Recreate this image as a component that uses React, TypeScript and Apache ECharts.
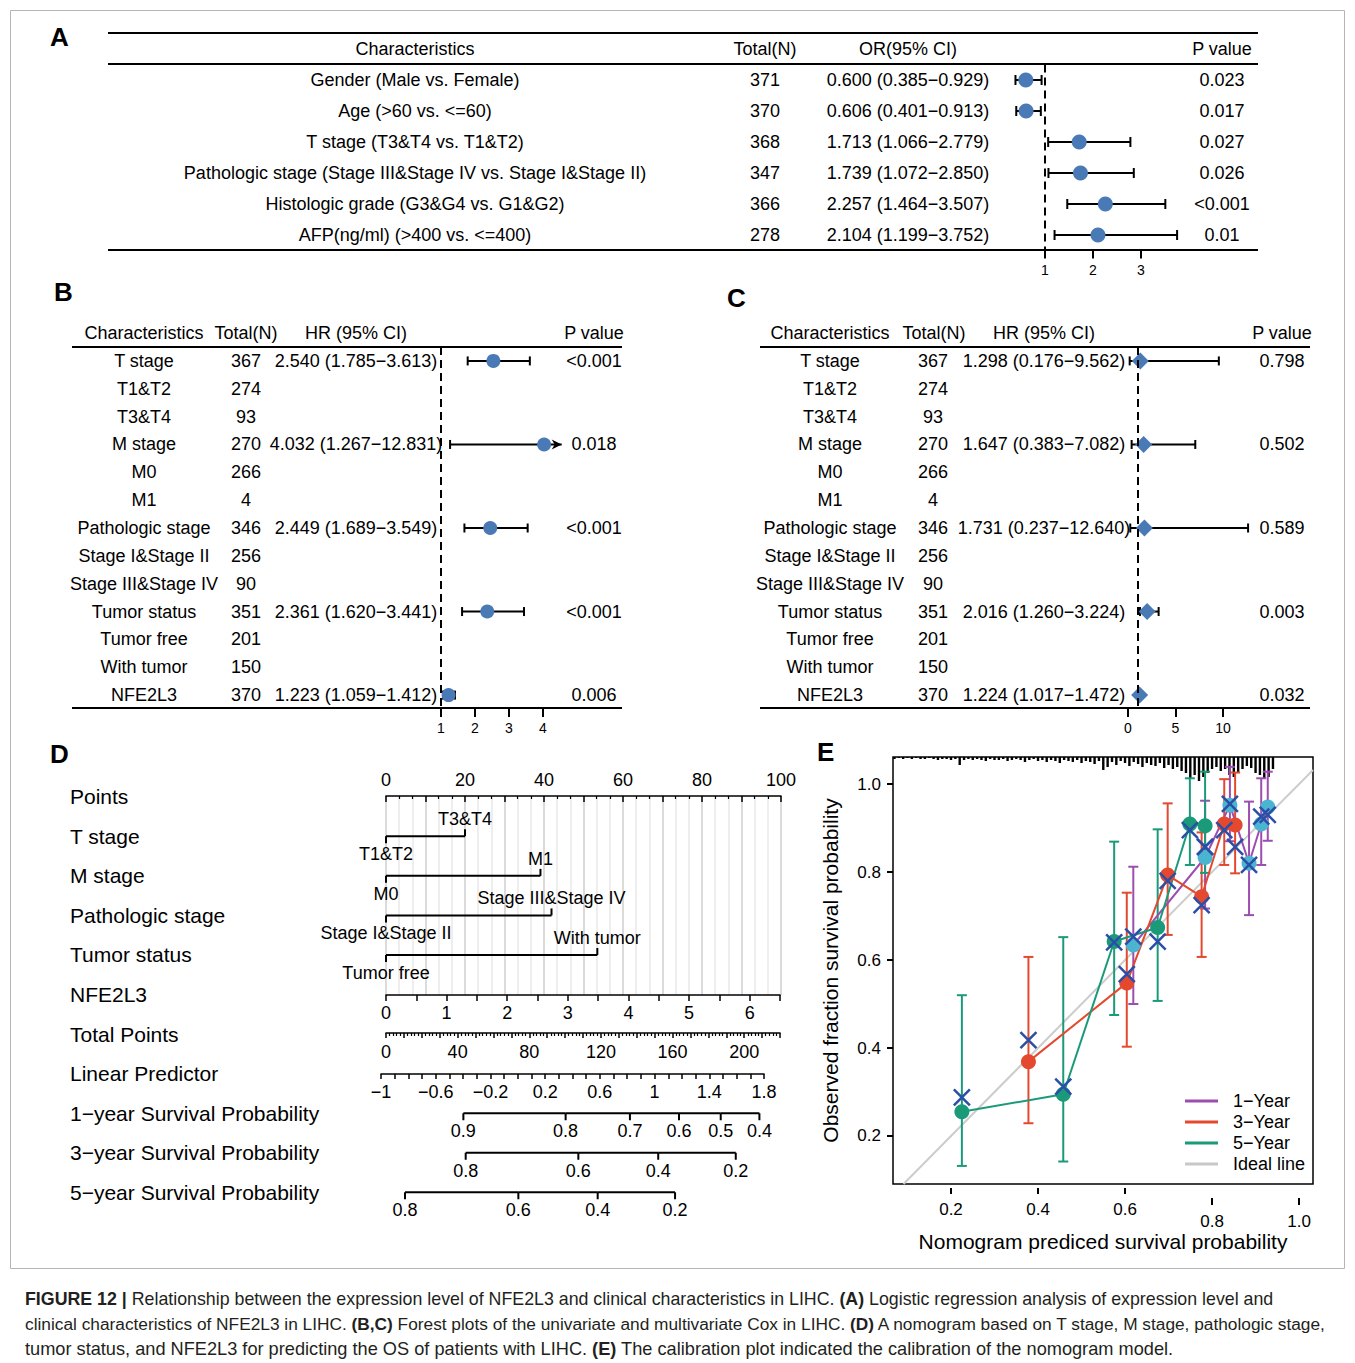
import React, { useEffect, useRef } from 'react';
import * as echarts from 'echarts';

const FONT = '"Liberation Sans", Arial, Helvetica, sans-serif';
const INK = '#000000';
const DOT = '#4a7ab5';

// ---------------- Panel A (logistic regression) ----------------
const aChars = [
  'Gender (Male vs. Female)',
  'Age (>60 vs. <=60)',
  'T stage (T3&T4 vs. T1&T2)',
  'Pathologic stage (Stage III&Stage IV vs. Stage I&Stage II)',
  'Histologic grade (G3&G4 vs. G1&G2)',
  'AFP(ng/ml) (>400 vs. <=400)',
];
const aTotal = [371, 370, 368, 347, 366, 278];
const aOR = [0.6, 0.606, 1.713, 1.739, 2.257, 2.104];
const aLo = [0.385, 0.401, 1.066, 1.072, 1.464, 1.199];
const aHi = [0.929, 0.913, 2.779, 2.85, 3.507, 3.752];
const aP = ['0.023', '0.017', '0.027', '0.026', '<0.001', '0.01'];
const aTicks = [1, 2, 3];

// ---------------- Panels B, C (Cox) ----------------
const bcChars = [
  'T stage', 'T1&T2', 'T3&T4', 'M stage', 'M0', 'M1', 'Pathologic stage',
  'Stage I&Stage II', 'Stage III&Stage IV', 'Tumor status', 'Tumor free', 'With tumor', 'NFE2L3',
];
const bcTotal = [367, 274, 93, 270, 266, 4, 346, 256, 90, 351, 201, 150, 370];
const bHR = [2.54, null, null, 4.032, null, null, 2.449, null, null, 2.361, null, null, 1.223];
const bLo = [1.785, null, null, 1.267, null, null, 1.689, null, null, 1.62, null, null, 1.059];
const bHi = [3.613, null, null, 12.831, null, null, 3.549, null, null, 3.441, null, null, 1.412];
const bP = ['<0.001', '', '', '0.018', '', '', '<0.001', '', '', '<0.001', '', '', '0.006'];
const bTicks = [1, 2, 3, 4];
const cHR = [1.298, null, null, 1.647, null, null, 1.731, null, null, 2.016, null, null, 1.224];
const cLo = [0.176, null, null, 0.383, null, null, 0.237, null, null, 1.26, null, null, 1.017];
const cHi = [9.562, null, null, 7.082, null, null, 12.64, null, null, 3.224, null, null, 1.472];
const cP = ['0.798', '', '', '0.502', '', '', '0.589', '', '', '0.003', '', '', '0.032'];
const cTicks = [0, 5, 10];

// ---------------- Panel D (nomogram) ----------------
const nomoRows = [
  'Points', 'T stage', 'M stage', 'Pathologic stage', 'Tumor status', 'NFE2L3',
  'Total Points', 'Linear Predictor', '1−year Survival Probability',
  '3−year Survival Probability', '5−year Survival Probability',
];
const nomoVarRows = [1, 2, 3, 4];
const nomoLevel0 = ['T1&T2', 'M0', 'Stage I&Stage II', 'Tumor free'];
const nomoLevel1 = ['T3&T4', 'M1', 'Stage III&Stage IV', 'With tumor'];
const nomoLevel1Points = [20.0, 39.1, 41.9, 53.5];
const surv1Labels = ['0.9', '0.8', '0.7', '0.6', '0.5', '0.4'];
const surv1TotalPts = [43.2, 100.3, 136.2, 163.6, 186.9, 208.5];
const surv3Labels = ['0.8', '0.6', '0.4', '0.2'];
const surv3TotalPts = [44.5, 107.4, 152.0, 195.3];
const surv5Labels = ['0.8', '0.6', '0.4', '0.2'];
const surv5TotalPts = [10.6, 73.9, 118.2, 161.4];

// ---------------- Panel E (calibration) ----------------
const oneX = [0.619, 0.784, 0.841, 0.885, 0.913, 0.928];
const oneY = [0.634, 0.833, 0.952, 0.82, 0.909, 0.948];
const oneLo = [0.5, 0.717, 0.87, 0.702, 0.816, 0.871];
const oneHi = [0.812, 0.962, 1.039, 0.96, 1.013, 1.028];
const oneCorr = [0.653, 0.857, 0.955, 0.816, 0.926, 0.93];
const threeX = [0.378, 0.604, 0.698, 0.776, 0.828, 0.853];
const threeY = [0.369, 0.548, 0.793, 0.744, 0.909, 0.907];
const threeLo = [0.229, 0.403, 0.657, 0.607, 0.816, 0.797];
const threeHi = [0.607, 0.753, 0.956, 0.89, 1.011, 1.026];
const threeCorr = [0.418, 0.568, 0.78, 0.725, 0.895, 0.857];
const fiveX = [0.225, 0.458, 0.575, 0.675, 0.749, 0.784];
const fiveY = [0.255, 0.295, 0.642, 0.674, 0.909, 0.905];
const fiveLo = [0.132, 0.142, 0.475, 0.507, 0.816, 0.798];
const fiveHi = [0.52, 0.652, 0.869, 0.897, 1.013, 1.028];
const fiveCorr = [0.288, 0.312, 0.64, 0.642, 0.895, 0.857];
const idealEnds = [0.0909, 1.032];
const eTicks = [0.2, 0.4, 0.6, 0.8, 1.0];
const rugX = [
  0.07, 0.08, 0.09, 0.1, 0.11, 0.12, 0.13, 0.14, 0.15, 0.16, 0.17, 0.18, 0.19, 0.2, 0.21, 0.22,
  0.23, 0.24, 0.25, 0.26, 0.27, 0.28, 0.29, 0.3, 0.31, 0.32, 0.33, 0.34, 0.35, 0.36, 0.37, 0.38,
  0.39, 0.4, 0.41, 0.42, 0.43, 0.44, 0.45, 0.46, 0.47, 0.48, 0.49, 0.5, 0.51, 0.52, 0.53, 0.54,
  0.55, 0.56, 0.57, 0.58, 0.59, 0.6, 0.61, 0.62, 0.63, 0.64, 0.65, 0.66, 0.67, 0.68, 0.69, 0.7,
  0.71, 0.72, 0.73, 0.74, 0.75, 0.76, 0.77, 0.78, 0.79, 0.8, 0.81, 0.82, 0.83, 0.84, 0.85, 0.86,
  0.87, 0.88, 0.89, 0.9, 0.91, 0.92, 0.93, 0.94,
];
const rugCount = [
  2, 1, 2, 1, 2, 1, 2, 2, 1, 2, 3, 2, 2, 3, 2, 8,
  3, 2, 3, 2, 3, 4, 2, 3, 3, 2, 4, 3, 2, 3, 5, 3,
  2, 4, 3, 5, 3, 4, 6, 3, 4, 5, 3, 6, 4, 5, 7, 4,
  13, 10, 5, 8, 4, 6, 9, 5, 7, 10, 6, 8, 9, 6, 11, 8,
  12, 10, 14, 16, 22, 18, 24, 20, 16, 12, 10, 14, 12, 18, 20, 16,
  12, 9, 11, 16, 18, 22, 20, 12,
];

const PURPLE = '#9c4db0';
const RED = '#e4492f';
const GREEN = '#1b9a7a';
const CYAN = '#4bb5d1';
const XBLUE = '#2b4fa6';

const f3 = (v: number) => v.toFixed(3);

function tableSeries(gi: number, cols: { x: number; texts: string[] }[], xRef: number) {
  return {
    type: 'custom',
    xAxisIndex: gi,
    yAxisIndex: gi,
    clip: false,
    silent: true,
    data: cols[0].texts.map((_, i) => [xRef, i]),
    encode: { x: 0, y: 1 },
    renderItem: (params: any, api: any) => {
      const i = params.dataIndex;
      const y = api.coord([api.value(0), api.value(1)])[1];
      return {
        type: 'group',
        children: cols
          .filter((c) => c.texts[i])
          .map((c) => ({
            type: 'text',
            style: {
              x: c.x, y, text: c.texts[i], fill: INK, fontSize: 18, fontFamily: FONT,
              align: 'center', verticalAlign: 'middle',
            },
          })),
      };
    },
  };
}

function ciSeries(gi: number, est: (number | null)[], lo: (number | null)[], hi: (number | null)[], capH: number, axisMax: number) {
  const idx = est.map((e, i) => (e == null ? -1 : i)).filter((i) => i >= 0);
  return {
    type: 'custom',
    xAxisIndex: gi,
    yAxisIndex: gi,
    clip: false,
    silent: true,
    z: 3,
    data: idx.map((i) => [i, lo[i], hi[i]]),
    encode: { x: [1, 2], y: 0 },
    renderItem: (params: any, api: any) => {
      const row = api.value(0);
      const l = api.value(1);
      const h = api.value(2);
      const over = h > axisMax;
      const p1 = api.coord([l, row]);
      const p2 = api.coord([over ? axisMax : h, row]);
      const st = { stroke: INK, lineWidth: 2 };
      const ch: any[] = [
        { type: 'line', shape: { x1: p1[0], y1: p1[1], x2: p2[0], y2: p2[1] }, style: st },
        { type: 'line', shape: { x1: p1[0], y1: p1[1] - capH / 2, x2: p1[0], y2: p1[1] + capH / 2 }, style: st },
      ];
      if (over) {
        ch.push({
          type: 'polygon',
          shape: { points: [[p2[0], p2[1]], [p2[0] - 10, p2[1] - 5], [p2[0] - 7, p2[1]], [p2[0] - 10, p2[1] + 5]] },
          style: { fill: INK },
        });
      } else {
        ch.push({ type: 'line', shape: { x1: p2[0], y1: p2[1] - capH / 2, x2: p2[0], y2: p2[1] + capH / 2 }, style: st });
      }
      return { type: 'group', children: ch };
    },
  };
}

function dotSeries(gi: number, est: (number | null)[], symbol: string, size: number) {
  const idx = est.map((e, i) => (e == null ? -1 : i)).filter((i) => i >= 0);
  return {
    type: 'scatter',
    xAxisIndex: gi,
    yAxisIndex: gi,
    symbol,
    symbolSize: size,
    z: 4,
    silent: true,
    itemStyle: { color: DOT, opacity: 1 },
    data: idx.map((i) => [est[i], i]),
    markLine: {
      silent: true,
      symbol: ['none', 'none'],
      label: { show: false },
      lineStyle: { color: INK, type: [8, 5], width: 2 },
      data: [{ xAxis: 1 }],
    },
  };
}

function forestX(gi: number, max: number, ticks: number[]) {
  return {
    gridIndex: gi, type: 'value', min: 0, max, position: 'bottom',
    axisLine: { show: false, onZero: false },
    axisTick: { show: true, length: 8, customValues: ticks, lineStyle: { color: INK, width: 2 } },
    axisLabel: { customValues: ticks, margin: 12, fontSize: 14, color: INK, fontFamily: FONT },
    splitLine: { show: false },
  };
}

function ebSeries(x: number[], lo: number[], hi: number[], color: string) {
  return {
    type: 'custom',
    xAxisIndex: 9,
    yAxisIndex: 9,
    silent: true,
    z: 2,
    clip: false,
    data: x.map((v, i) => [v, lo[i], hi[i]]),
    encode: { x: 0, y: [1, 2] },
    renderItem: (params: any, api: any) => {
      const a = api.coord([api.value(0), api.value(1)]);
      const b = api.coord([api.value(0), api.value(2)]);
      const st = { stroke: color, lineWidth: 2 };
      return {
        type: 'group',
        children: [
          { type: 'line', shape: { x1: a[0], y1: a[1], x2: b[0], y2: b[1] }, style: st },
          { type: 'line', shape: { x1: a[0] - 5, y1: a[1], x2: a[0] + 5, y2: a[1] }, style: st },
          { type: 'line', shape: { x1: b[0] - 5, y1: b[1], x2: b[0] + 5, y2: b[1] }, style: st },
        ],
      };
    },
  };
}

function buildOption() {
  const aCols = [
    { x: 415, texts: aChars },
    { x: 765, texts: aTotal.map(String) },
    { x: 908, texts: aOR.map((v, i) => `${f3(v)} (${f3(aLo[i])}−${f3(aHi[i])})`) },
    { x: 1222, texts: aP },
  ];
  const hrText = (e: (number | null)[], l: (number | null)[], h: (number | null)[]) =>
    e.map((v, i) => (v == null ? '' : `${f3(v)} (${f3(l[i] as number)}−${f3(h[i] as number)})`));
  const bCols = [
    { x: 144, texts: bcChars },
    { x: 246, texts: bcTotal.map(String) },
    { x: 356, texts: hrText(bHR, bLo, bHi) },
    { x: 594, texts: bP },
  ];
  const cCols = [
    { x: 830, texts: bcChars },
    { x: 933, texts: bcTotal.map(String) },
    { x: 1044, texts: hrText(cHR, cLo, cHi) },
    { x: 1282, texts: cP },
  ];

  const survRowsData = [
    { labels: surv1Labels, pts: surv1TotalPts },
    { labels: surv3Labels, pts: surv3TotalPts },
    { labels: surv5Labels, pts: surv5TotalPts },
  ];
  const survItems: { tp: number; row: number; label: string; next: number | null }[] = [];
  survRowsData.forEach((r, ri) =>
    r.pts.forEach((tp, j) => survItems.push({ tp, row: ri, label: r.labels[j], next: j + 1 < r.pts.length ? r.pts[j + 1] : null })),
  );

  const nomoAxisBase = {
    type: 'value',
    axisLine: { show: true, onZero: false, lineStyle: { color: INK, width: 1.5 } },
    axisTick: { show: true, length: 6, lineStyle: { color: INK, width: 1.5 } },
    axisLabel: { fontSize: 18, color: INK, fontFamily: FONT, margin: 8 },
    splitLine: { show: false },
  };
  const fmtMinus = (v: number) => String(Math.round(v * 10) / 10).replace('-', '−');

  const txt = (x: number, y: number, text: string, size: number, extra: any = {}) => ({
    type: 'text', x, y,
    style: { text, fill: INK, fontSize: size, fontFamily: FONT, ...extra },
  });
  const hl = (x1: number, x2: number, y: number) => ({
    type: 'line', shape: { x1, y1: y, x2, y2: y }, style: { stroke: INK, lineWidth: 2 },
  });
  const cap = (y: number, size: number, text: string) => ({
    type: 'text', x: 25, y,
    style: {
      text, fontSize: size, fontFamily: FONT, fill: '#231f20', verticalAlign: 'middle',
      rich: { b: { fontWeight: 'bold', fontSize: size, fontFamily: FONT, fill: '#231f20' } },
    },
  });

  return {
    animation: false,
    backgroundColor: '#ffffff',
    textStyle: { fontFamily: FONT },
    legend: {
      data: ['1−Year', '3−Year', '5−Year', 'Ideal line'],
      orient: 'vertical',
      left: 1180,
      top: 1087,
      icon: 'rect',
      itemWidth: 33,
      itemHeight: 3,
      itemGap: 3,
      textStyle: { fontSize: 18, color: INK, fontFamily: FONT, lineHeight: 18, padding: [0, 0, 0, 10] },
      selectedMode: false,
    },
    grid: [
      { left: 997, top: 64.5, width: 192, height: 186 },
      { left: 407, top: 347, width: 154.7, height: 362 },
      { left: 1128, top: 347, width: 123.5, height: 362 },
      { left: 386, top: 777, width: 395, height: 435 },
      { left: 386, top: 796, width: 395, height: 199 },
      { left: 386, top: 994, width: 394, height: 1 },
      { left: 386, top: 1032, width: 394, height: 1 },
      { left: 381, top: 1073, width: 383, height: 1 },
      { left: 386, top: 1093.5, width: 394, height: 118.5 },
      { left: 893, top: 757, width: 420, height: 427, show: true, borderColor: INK, borderWidth: 1.5, backgroundColor: 'transparent' },
    ],
    xAxis: [
      forestX(0, 4, aTicks),
      forestX(1, 4.55, bTicks),
      forestX(2, 13, cTicks),
      { gridIndex: 3, type: 'value', min: 0, max: 100, show: false },
      {
        ...nomoAxisBase, gridIndex: 4, position: 'top', min: 0, max: 100, interval: 10,
        axisTick: { show: true, inside: true, length: 6, lineStyle: { color: INK, width: 1.5 } },
        minorTick: { show: true, splitNumber: 3, length: 3, lineStyle: { color: INK, width: 1.2 } },
        axisLabel: { ...nomoAxisBase.axisLabel, margin: 7, formatter: (v: number) => (v % 20 === 0 ? String(v) : '') },
        splitLine: { show: true, lineStyle: { color: '#cfcfcf', width: 1.5 } },
        minorSplitLine: { show: true, lineStyle: { color: '#e9e9e9', width: 1.5 } },
      },
      {
        ...nomoAxisBase, gridIndex: 5, position: 'bottom', min: 0, max: 6.5, interval: 0.5,
        axisLabel: { ...nomoAxisBase.axisLabel, margin: 9, formatter: (v: number) => (Math.abs(v - Math.round(v)) < 1e-6 ? String(Math.round(v)) : '') },
      },
      {
        ...nomoAxisBase, gridIndex: 6, position: 'bottom', min: 0, max: 220, interval: 10,
        axisTick: { show: true, length: 5, lineStyle: { color: INK, width: 1.5 } },
        minorTick: { show: true, splitNumber: 5, length: 3, lineStyle: { color: INK, width: 1.2 } },
        axisLabel: { ...nomoAxisBase.axisLabel, margin: 10, formatter: (v: number) => (Math.round(v) % 40 === 0 ? String(Math.round(v)) : '') },
      },
      {
        ...nomoAxisBase, gridIndex: 7, position: 'bottom', min: -1, max: 1.8, interval: 0.1,
        axisTick: { show: true, length: 5, lineStyle: { color: INK, width: 1.5 } },
        axisLabel: {
          ...nomoAxisBase.axisLabel, margin: 9,
          formatter: (v: number) => (Math.round((v + 1) * 10) % 4 === 0 ? fmtMinus(v) : ''),
        },
      },
      { gridIndex: 8, type: 'value', min: 0, max: 220, show: false },
      {
        gridIndex: 9, type: 'value', position: 'bottom', min: 0.0667, max: 1.032, offset: 4,
        axisLine: { show: false, onZero: false },
        axisTick: { show: true, length: 6, customValues: [0.2, 0.4, 0.6], lineStyle: { color: INK, width: 2 } },
        axisLabel: { customValues: [0.2, 0.4, 0.6], margin: 13, fontSize: 17, color: INK, fontFamily: FONT, formatter: (v: number) => v.toFixed(1) },
        splitLine: { show: false },
        name: 'Nomogram prediced survival probability',
        nameLocation: 'middle',
        nameGap: 43,
        nameTextStyle: { fontSize: 21, color: INK, fontFamily: FONT },
      },
      {
        gridIndex: 9, type: 'value', position: 'bottom', min: 0.0667, max: 1.032, offset: 14,
        axisLine: { show: false, onZero: false },
        axisTick: { show: true, length: 7, customValues: [0.8, 1.0], lineStyle: { color: INK, width: 2 } },
        axisLabel: { customValues: [0.8, 1.0], margin: 15, fontSize: 17, color: INK, fontFamily: FONT, formatter: (v: number) => v.toFixed(1) },
        splitLine: { show: false },
      },
    ],
    yAxis: [
      { gridIndex: 0, type: 'value', inverse: true, min: -0.5, max: aChars.length - 0.5, show: false },
      { gridIndex: 1, type: 'value', inverse: true, min: -0.5, max: bcChars.length - 0.5, show: false },
      { gridIndex: 2, type: 'value', inverse: true, min: -0.5, max: bcChars.length - 0.5, show: false },
      {
        gridIndex: 3, type: 'category', data: nomoRows, inverse: true,
        axisLine: { show: false }, axisTick: { show: false },
        axisLabel: { align: 'left', margin: 316, fontSize: 21, color: INK, fontFamily: FONT },
      },
      { gridIndex: 4, type: 'value', min: 0, max: 1, show: false },
      { gridIndex: 5, type: 'value', min: 0, max: 1, show: false },
      { gridIndex: 6, type: 'value', min: 0, max: 1, show: false },
      { gridIndex: 7, type: 'value', min: 0, max: 1, show: false },
      { gridIndex: 8, type: 'category', data: ['1', '3', '5'], inverse: true, show: false },
      {
        gridIndex: 9, type: 'value', min: 0.0909, max: 1.0614,
        axisLine: { show: false, onZero: false },
        axisTick: { show: true, length: 6, customValues: eTicks, lineStyle: { color: INK, width: 2 } },
        axisLabel: { customValues: eTicks, margin: 12, fontSize: 17, color: INK, fontFamily: FONT, formatter: (v: number) => v.toFixed(1) },
        splitLine: { show: false },
        name: 'Observed fraction survival probability',
        nameLocation: 'middle',
        nameGap: 52,
        nameTextStyle: { fontSize: 21, color: INK, fontFamily: FONT },
      },
    ],
    series: [
      // A
      tableSeries(0, aCols, 0),
      ciSeries(0, aOR, aLo, aHi, 10, 4),
      dotSeries(0, aOR, 'circle', 15),
      // B
      tableSeries(1, bCols, 0),
      ciSeries(1, bHR, bLo, bHi, 9, 4.55),
      dotSeries(1, bHR, 'circle', 14),
      // C
      tableSeries(2, cCols, 0),
      ciSeries(2, cHR, cLo, cHi, 9, 13),
      dotSeries(2, cHR, 'diamond', 17),
      // D variables
      {
        type: 'custom', xAxisIndex: 3, yAxisIndex: 3, clip: false, silent: true,
        data: nomoVarRows.map((r, i) => [r, 0, nomoLevel1Points[i]]),
        encode: { x: [1, 2], y: 0 },
        renderItem: (params: any, api: any) => {
          const i = params.dataIndex;
          const a = api.coord([api.value(1), api.value(0)]);
          const b = api.coord([api.value(2), api.value(0)]);
          const st = { stroke: INK, lineWidth: 2 };
          return {
            type: 'group',
            children: [
              { type: 'line', shape: { x1: a[0], y1: a[1], x2: b[0], y2: b[1] }, style: st },
              { type: 'line', shape: { x1: a[0], y1: a[1], x2: a[0], y2: a[1] + 7 }, style: st },
              { type: 'line', shape: { x1: b[0], y1: b[1], x2: b[0], y2: b[1] - 7 }, style: st },
              { type: 'text', style: { x: a[0], y: a[1] + 18, text: nomoLevel0[i], fill: INK, fontSize: 18, fontFamily: FONT, align: 'center', verticalAlign: 'middle' } },
              { type: 'text', style: { x: b[0], y: b[1] - 17, text: nomoLevel1[i], fill: INK, fontSize: 18, fontFamily: FONT, align: 'center', verticalAlign: 'middle' } },
            ],
          };
        },
      },
      // D survival probability scales
      {
        type: 'custom', xAxisIndex: 8, yAxisIndex: 8, clip: false, silent: true,
        data: survItems.map((s) => [s.tp, s.row]),
        encode: { x: 0, y: 1 },
        renderItem: (params: any, api: any) => {
          const s = survItems[params.dataIndex];
          const p = api.coord([api.value(0), api.value(1)]);
          const st = { stroke: INK, lineWidth: 2 };
          const ch: any[] = [
            { type: 'line', shape: { x1: p[0], y1: p[1], x2: p[0], y2: p[1] + 7 }, style: st },
            { type: 'text', style: { x: p[0], y: p[1] + 18, text: s.label, fill: INK, fontSize: 18, fontFamily: FONT, align: 'center', verticalAlign: 'middle' } },
          ];
          if (s.next != null) {
            const q = api.coord([s.next, api.value(1)]);
            ch.push({ type: 'line', shape: { x1: p[0], y1: p[1], x2: q[0], y2: q[1] }, style: st });
          }
          return { type: 'group', children: ch };
        },
      },
      // E ideal line
      {
        type: 'line', name: 'Ideal line', xAxisIndex: 9, yAxisIndex: 9, symbol: 'none', silent: true,
        color: '#c8c8c8', lineStyle: { color: '#cccccc', width: 2 }, z: 1,
        data: [[idealEnds[0], idealEnds[0]], [idealEnds[1], idealEnds[1]]],
      },
      // E rug of predictions
      {
        type: 'custom', xAxisIndex: 9, yAxisIndex: 9, clip: false, silent: true, z: 2,
        data: rugX.map((x, i) => [x, rugCount[i]]),
        encode: { x: 0 },
        renderItem: (params: any, api: any) => {
          const p = api.coord([api.value(0), 1.0614]);
          return { type: 'line', shape: { x1: p[0], y1: p[1], x2: p[0], y2: p[1] + api.value(1) }, style: { stroke: INK, lineWidth: 2.4 } };
        },
      },
      ebSeries(oneX, oneLo, oneHi, PURPLE),
      ebSeries(threeX, threeLo, threeHi, RED),
      ebSeries(fiveX, fiveLo, fiveHi, GREEN),
      {
        type: 'line', name: '1−Year', xAxisIndex: 9, yAxisIndex: 9, symbol: 'none', silent: true, z: 3,
        color: PURPLE, lineStyle: { color: PURPLE, width: 2 }, data: oneX.map((x, i) => [x, oneY[i]]),
      },
      {
        type: 'line', name: '3−Year', xAxisIndex: 9, yAxisIndex: 9, symbol: 'none', silent: true, z: 3,
        color: RED, lineStyle: { color: RED, width: 2 }, data: threeX.map((x, i) => [x, threeY[i]]),
      },
      {
        type: 'line', name: '5−Year', xAxisIndex: 9, yAxisIndex: 9, symbol: 'none', silent: true, z: 3,
        color: GREEN, lineStyle: { color: GREEN, width: 2 }, data: fiveX.map((x, i) => [x, fiveY[i]]),
      },
      ...[
        { x: oneX, y: oneY, c: CYAN, n: 'p1' },
        { x: threeX, y: threeY, c: RED, n: 'p3' },
        { x: fiveX, y: fiveY, c: GREEN, n: 'p5' },
      ].map((s) => ({
        type: 'scatter', name: s.n, xAxisIndex: 9, yAxisIndex: 9, symbol: 'circle', symbolSize: 15, silent: true, z: 4,
        itemStyle: { color: s.c, opacity: 1 }, data: s.x.map((x, i) => [x, s.y[i]]),
      })),
      ...[
        { x: oneX, y: oneCorr, n: 'c1' },
        { x: threeX, y: threeCorr, n: 'c3' },
        { x: fiveX, y: fiveCorr, n: 'c5' },
      ].map((s) => ({
        type: 'scatter', name: s.n, xAxisIndex: 9, yAxisIndex: 9, symbol: 'path://M0,0 L10,10 M10,0 L0,10', symbolSize: 16,
        silent: true, z: 5,
        itemStyle: { color: 'rgba(0,0,0,0)', borderColor: XBLUE, borderWidth: 2.5, opacity: 1 },
        data: s.x.map((x, i) => [x, s.y[i]]),
      })),
    ],
    graphic: [
      { type: 'rect', shape: { x: 10.5, y: 10.5, width: 1334, height: 1258 }, style: { fill: 'none', stroke: '#b5b5b5', lineWidth: 1 }, silent: true },
      // panel letters
      txt(50, 24, 'A', 26, { fontWeight: 'bold' }),
      txt(54, 279, 'B', 26, { fontWeight: 'bold' }),
      txt(727, 285, 'C', 26, { fontWeight: 'bold' }),
      txt(50, 741, 'D', 26, { fontWeight: 'bold' }),
      txt(817, 739, 'E', 26, { fontWeight: 'bold' }),
      // table rules
      hl(108, 1258, 33), hl(108, 1258, 64), hl(108, 1258, 250),
      hl(72, 622, 347), hl(72, 622, 708),
      hl(760, 1310, 347), hl(760, 1310, 708),
      // headers
      txt(415, 49, 'Characteristics', 18, { align: 'center', verticalAlign: 'middle' }),
      txt(765, 49, 'Total(N)', 18, { align: 'center', verticalAlign: 'middle' }),
      txt(908, 49, 'OR(95% CI)', 18, { align: 'center', verticalAlign: 'middle' }),
      txt(1222, 49, 'P value', 18, { align: 'center', verticalAlign: 'middle' }),
      txt(144, 333, 'Characteristics', 18, { align: 'center', verticalAlign: 'middle' }),
      txt(246, 333, 'Total(N)', 18, { align: 'center', verticalAlign: 'middle' }),
      txt(356, 333, 'HR (95% CI)', 18, { align: 'center', verticalAlign: 'middle' }),
      txt(594, 333, 'P value', 18, { align: 'center', verticalAlign: 'middle' }),
      txt(830, 333, 'Characteristics', 18, { align: 'center', verticalAlign: 'middle' }),
      txt(934, 333, 'Total(N)', 18, { align: 'center', verticalAlign: 'middle' }),
      txt(1044, 333, 'HR (95% CI)', 18, { align: 'center', verticalAlign: 'middle' }),
      txt(1282, 333, 'P value', 18, { align: 'center', verticalAlign: 'middle' }),
      // caption
      cap(1299, 17.8, '{b|FIGURE 12 |} Relationship between the expression level of NFE2L3 and clinical characteristics in LIHC. {b|(A)} Logistic regression analysis of expression level and'),
      cap(1324, 17.3, 'clinical characteristics of NFE2L3 in LIHC. {b|(B,C)} Forest plots of the univariate and multivariate Cox in LIHC. {b|(D)} A nomogram based on T stage, M stage, pathologic stage,'),
      cap(1349, 18.2, 'tumor status, and NFE2L3 for predicting the OS of patients with LIHC. {b|(E)} The calibration plot indicated the calibration of the nomogram model.'),
    ],
  };
}

export default function App() {
  const ref = useRef<HTMLDivElement>(null);
  useEffect(() => {
    if (!ref.current) return;
    const chart = echarts.init(ref.current, null, { renderer: 'svg' });
    chart.setOption(buildOption() as any);
    return () => chart.dispose();
  }, []);
  return (
    <div
      ref={ref}
      style={{ position: 'absolute', left: 0, top: 0, width: 1355, height: 1363, background: '#ffffff' }}
    />
  );
}
